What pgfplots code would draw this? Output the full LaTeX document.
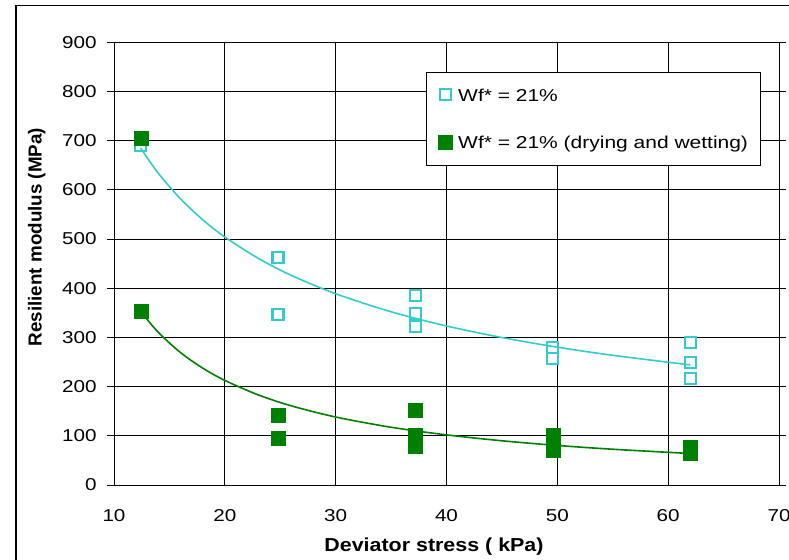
\documentclass[border=0pt]{standalone}
\usepackage{fontspec}
\setmainfont{Liberation Sans}[FakeStretch=1.2]
\newfontfamily\ylabfont{Liberation Sans}
\newfontfamily\xlabfont{Liberation Sans}[FakeStretch=1.14]
\newfontfamily\legfont{Liberation Sans}[FakeStretch=1.22]
\usepackage{pgfplots}
\pgfplotsset{compat=1.18}
\definecolor{cyanS}{RGB}{51,204,204}
\definecolor{greenS}{RGB}{0,128,0}

\begin{document}
\begin{tikzpicture}
\useasboundingbox (0,0) rectangle (394.5bp,280bp);
\begin{scope}
\clip (0,0) rectangle (394.5bp,280bp);
\draw[line width=0.6bp] (8bp,-20bp) rectangle (420bp,277.15bp);
\end{scope}
\begin{axis}[
  at={(57bp,37.5bp)}, anchor=south west,
  scale only axis, width=332.5bp, height=221.35bp,
  xmin=10, xmax=70, ymin=0, ymax=900,
  xtick={10,20,...,70}, ytick={0,100,...,900},
  grid=major, major grid style={black, line width=0.5bp},
  axis line style={black, line width=0.5bp},
  tick align=outside, major tick length=3.5bp,
  xtick style={draw=none}, ytick style={black, line width=0.5bp},
  tick label style={font=\fontsize{8.6bp}{10bp}\selectfont, inner sep=0pt},
  /pgf/number format/assume math mode=true,
  yticklabel style={anchor=east, xshift=-5bp},
  xticklabel style={anchor=north, yshift=-8.5bp},
  xlabel={Deviator stress ( kPa)},
  xlabel style={at={(axis description cs:0.4812,0)}, anchor=base, yshift=-33bp, inner sep=0pt,
    font=\xlabfont\bfseries\fontsize{9.4bp}{11bp}\selectfont},
  ylabel={Resilient modulus (MPa)},
  ylabel style={at={(axis description cs:-0.1087,0.5602)}, anchor=base, inner sep=0pt,
    font=\ylabfont\bfseries\fontsize{9.4bp}{11bp}\selectfont},
  legend style={at={(0.4687,0.9322)}, anchor=north west, draw=black, line width=0.5bp,
    inner xsep=6bp, inner ysep=6.15bp, row sep=12.8bp, column sep=3bp,
    font=\legfont\fontsize{8.6bp}{10bp}\selectfont,
    nodes={inner sep=0pt, text height=8.2bp, text depth=2.5bp}},
  legend cell align=left,
  legend image code/.code={\draw[#1] plot coordinates {(0bp,0.6bp)};},
]
\addplot[cyanS, only marks, mark=square, mark size=2.75bp, mark options={draw=cyanS, fill=white, line width=1.05bp}]
  coordinates {(12.4,691) (24.8,463) (24.8,347) (37.2,386) (37.2,349) (37.2,322)
               (49.6,280) (49.6,258) (62,290) (62,249) (62,217)};
\addlegendentry{Wf* = 21\%}
\addplot[greenS, only marks, mark=square*, mark size=3.5bp, mark options={draw=greenS, fill=greenS, line width=0.1bp}]
  coordinates {(12.4,705) (12.4,353) (24.8,142) (24.8,96) (37.2,152) (37.2,102) (37.2,90) (37.2,80)
               (49.6,102) (49.6,88) (49.6,70) (62,78) (62,65)};
\addlegendentry{Wf* = 21\% (drying and wetting)}
% power-law trend lines
\addplot[cyanS, line width=0.8bp, smooth, no marks, forget plot]
  coordinates {(12.4,685) (14,633.7) (16,581.8) (18,539.4) (20,504.2) (23,461.0) (26,426.1)
               (30,388.8) (35,352.2) (40,323.3) (45,299.8) (50,280.2) (55,263.7) (62,244.1)};
\addplot[greenS, line width=0.8bp, smooth, no marks, forget plot]
  coordinates {(12.4,353) (14,310.3) (16,269.3) (18,237.7) (20,212.6) (23,183.3) (26,160.9)
               (30,138.2) (35,117.4) (40,101.9) (45,89.9) (50,80.4) (55,72.7) (62,64.0)};
\end{axis}
\end{tikzpicture}
\end{document}
